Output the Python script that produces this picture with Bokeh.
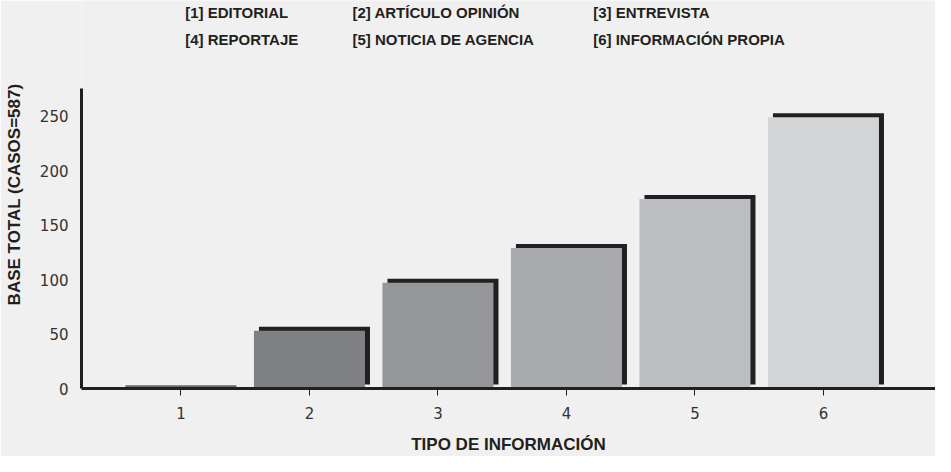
from bokeh.plotting import figure
from bokeh.models import ColumnDataSource, Range1d, FixedTicker
from bokeh.core.properties import value
from bokeh.embed import file_html
from bokeh.resources import INLINE

# ---- data ----
categories = [1, 2, 3, 4, 5, 6]
values = [3, 53, 97, 129, 174, 249]
bar_colors = ["#6b6b6d", "#7f8083", "#959699", "#a9aaad", "#bdbec1", "#d3d4d6"]
legend_labels = ["[1] EDITORIAL", "[2] ARTÍCULO OPINIÓN", "[3] ENTREVISTA",
                 "[4] REPORTAJE", "[5] NOTICIA DE AGENCIA", "[6] INFORMACIÓN PROPIA"]
y_ticks = [0, 50, 100, 150, 200, 250]
has_shadow = [False, True, True, True, True, True]

BG = "#eff0ef"
INK = "#231f20"
BAR_W = 0.864
SHADOW_DX = 0.039
SHADOW_DY = 3.66
Y_AXIS_MAX = 275

p = figure(width=935, height=456, output_backend="svg", toolbar_location=None,
           x_range=Range1d(0.226, 6.872), y_range=Range1d(0, 356.2),
           min_border_left=81, min_border_right=0, min_border_top=0, min_border_bottom=67,
           background_fill_color=BG, border_fill_color=BG, outline_line_color=None)

p.xgrid.visible = False
p.ygrid.visible = False

sh_x = [c + SHADOW_DX for c, s in zip(categories, has_shadow) if s]
sh_top = [v + SHADOW_DY for v, s in zip(values, has_shadow) if s]
p.vbar(x=sh_x, top=sh_top, bottom=SHADOW_DY, width=BAR_W, fill_color=INK, line_color=None)

src = ColumnDataSource(dict(x=categories, top=values, color=bar_colors))
p.vbar(x="x", top="top", bottom=0, width=BAR_W, fill_color="color", line_color=None, source=src)

# axes
xa = p.xaxis[0]
xa.ticker = FixedTicker(ticks=categories)
xa.axis_line_color = INK
xa.axis_line_width = 3
xa.major_tick_in = 0
xa.major_tick_out = 7
xa.major_tick_line_color = INK
xa.major_tick_line_width = 1
xa.minor_tick_line_color = None
xa.major_label_text_font = "DejaVu Sans"
xa.major_label_text_font_size = "15px"
xa.major_label_text_color = "#333333"
xa.major_label_standoff = 11
xa.axis_label = "TIPO DE INFORMACIÓN"
xa.axis_label_text_font = "Liberation Sans"
xa.axis_label_text_font_style = "bold"
xa.axis_label_text_font_size = "17px"
xa.axis_label_text_color = INK
xa.axis_label_standoff = 13

ya = p.yaxis[0]
ya.ticker = FixedTicker(ticks=y_ticks)
ya.bounds = (0, Y_AXIS_MAX)
ya.axis_line_color = INK
ya.axis_line_width = 3
ya.major_tick_in = 0
ya.major_tick_out = 0
ya.minor_tick_line_color = None
ya.major_label_text_font = "DejaVu Sans"
ya.major_label_text_font_size = "15px"
ya.major_label_text_color = "#333333"
ya.major_label_standoff = 13
ya.axis_label = "BASE TOTAL (CASOS=587)"
ya.axis_label_text_font = "Liberation Sans"
ya.axis_label_text_font_style = "bold"
ya.axis_label_text_font_size = "17px"
ya.axis_label_text_color = INK
ya.axis_label_standoff = 13

# legend text (3 columns x 2 rows) above the bars
col_x = [1.033, 2.335, 4.208]
row_y = [345.2, 320.8]
leg = ColumnDataSource(dict(
    x=[col_x[i % 3] for i in range(len(legend_labels))],
    y=[row_y[i // 3] for i in range(len(legend_labels))],
    text=legend_labels))
p.text(x="x", y="y", text="text", source=leg,
       text_font=value("Liberation Sans"), text_font_style="bold",
       text_font_size="15px", text_color=INK, text_baseline="middle", text_align="left")

open("out.html", "w").write(file_html(p, INLINE))
